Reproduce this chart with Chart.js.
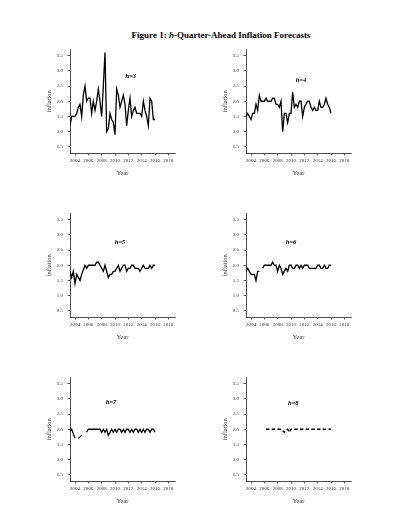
<!DOCTYPE html>
<html>
<head>
<meta charset="utf-8">
<script src="https://cdn.jsdelivr.net/npm/chart.js@4/dist/chart.umd.min.js"></script>
<style>
  html,body{margin:0;padding:0;background:#fff;width:399px;height:516px;overflow:hidden;}
  #title{position:absolute;left:21px;width:400px;top:30px;height:10px;line-height:10px;text-align:center;
    font-family:"Liberation Serif","Times New Roman",serif;font-weight:bold;font-size:9px;color:#000;white-space:nowrap;}
  canvas{position:absolute;}
</style>
</head>
<body>
<div id="title">Figure 1: <i>h</i>-Quarter-Ahead Inflation Forecasts</div>
<canvas id="c3" width="135" height="135" style="left:45px;top:42px"></canvas>
<canvas id="c4" width="135" height="135" style="left:221px;top:42px"></canvas>
<canvas id="c5" width="135" height="135" style="left:45px;top:206px"></canvas>
<canvas id="c6" width="135" height="135" style="left:221px;top:206px"></canvas>
<canvas id="c7" width="135" height="135" style="left:45px;top:370px"></canvas>
<canvas id="c8" width="135" height="135" style="left:221px;top:370px"></canvas>
<script>
// Quarterly dates (decimal years)
const quarters = [
  2003.25,2003.5,2003.75,2004.0,2004.25,2004.5,2004.75,2005.0,2005.25,2005.5,2005.75,
  2006.0,2006.25,2006.5,2006.75,2007.0,2007.25,2007.5,2007.75,2008.0,2008.25,2008.5,2008.75,
  2009.0,2009.25,2009.5,2009.75,2010.0,2010.25,2010.5,2010.75,2011.0,2011.25,2011.5,2011.75,
  2012.0,2012.25,2012.5,2012.75,2013.0,2013.25,2013.5,2013.75,2014.0,2014.25,2014.5,2014.75,
  2015.0,2015.25,2015.5,2015.75,2016.0
];
const xTicks = [2004,2006,2008,2010,2012,2014,2016,2018];
const yTicks = [0.5,1.0,1.5,2.0,2.5,3.0,3.5];

const h3 = [1.2,1.5,1.5,1.5,1.6,1.8,1.9,1.5,2.2,2.5,2.0,2.1,2.1,1.6,2.0,1.7,2.0,2.4,2.0,1.5,2.5,3.6,1.0,1.1,1.6,1.4,
            1.3,0.9,2.4,2.2,1.8,2.0,2.2,1.9,1.2,1.7,2.1,1.5,1.7,1.8,1.6,1.6,1.6,1.5,2.0,1.7,1.5,1.2,2.1,2.0,1.4,1.4];
const h4 = [1.5,1.6,1.5,1.4,1.6,1.6,1.9,1.7,2.2,2.0,2.0,2.0,2.1,2.0,2.0,2.0,2.1,2.1,1.9,1.9,1.8,2.0,1.0,1.6,1.6,1.3,
            1.6,1.6,2.3,1.8,1.9,1.8,2.0,2.0,1.5,1.8,1.9,2.0,2.0,1.8,1.7,1.8,1.7,1.7,2.0,1.8,1.8,1.9,2.1,1.9,1.8,1.6];
const h5 = [1.8,1.6,1.8,1.4,1.7,1.6,1.5,1.7,1.85,2.0,1.9,2.0,2.0,2.0,2.0,2.0,2.1,2.1,2.0,1.9,1.8,2.0,1.8,1.6,1.7,1.7,
            1.8,1.8,1.9,2.0,1.8,1.9,2.0,2.0,1.8,1.9,1.9,2.0,2.0,1.9,1.9,1.9,1.8,1.9,2.0,1.9,1.9,1.9,2.0,1.9,2.0,2.0];
const h6 = [1.8,1.9,1.8,1.7,1.7,1.7,1.5,1.8,1.8,null,1.9,2.0,2.0,2.0,2.0,2.0,2.1,2.0,2.0,1.8,2.0,1.9,1.7,1.8,1.9,1.8,
            2.0,2.0,1.9,1.9,2.0,2.0,1.9,2.0,1.9,2.0,2.0,2.0,1.9,1.9,1.9,1.9,1.9,2.0,2.0,1.9,1.9,2.0,1.9,1.9,2.0,2.0];
const h7 = [1.95,2.0,1.85,1.7,null,1.7,1.75,1.8,null,null,1.9,2.0,2.0,2.0,2.0,2.0,2.0,2.0,2.0,1.9,2.0,1.9,2.0,1.8,1.9,2.0,
            1.9,2.0,1.9,2.0,2.0,1.9,2.0,1.9,2.0,2.0,1.9,2.0,1.9,2.0,2.0,1.9,2.0,1.9,2.0,1.9,2.0,2.0,1.9,2.0,2.0,1.9];
const h8 = [null,null,null,null,null,null,null,null,null,null,null,null,2.0,2.0,2.0,2.0,2.0,2.0,2.0,2.0,2.0,2.0,1.95,1.9,1.95,2.0,
            1.9,2.0,2.0,2.0,2.0,2.0,2.0,2.0,2.0,2.0,2.0,2.0,2.0,2.0,2.0,2.0,2.0,2.0,2.0,2.0,2.0,2.0,2.0,2.0,2.0,2.0];

const SERIF = '"Liberation Serif","Times New Roman",serif';

const annotPlugin = {
  id: 'annot',
  afterDatasetsDraw(chart, args, o) {
    const {ctx, scales} = chart;
    ctx.save();
    ctx.font = 'italic bold 6.5px ' + SERIF;
    ctx.fillStyle = '#000';
    ctx.textAlign = 'center';
    ctx.textBaseline = 'middle';
    ctx.fillText(o.text, scales.x.getPixelForValue(o.x), scales.y.getPixelForValue(o.y));
    ctx.restore();
  }
};

function makeChart(id, values, label, ax, ay, dashed) {
  const pts = quarters.map((q, i) => ({x: q, y: values[i]}));
  new Chart(document.getElementById(id), {
    type: 'line',
    data: { datasets: [{
      data: pts, borderColor: '#000', borderWidth: 1.3, pointRadius: 0, tension: 0,
      spanGaps: false, borderDash: dashed ? [3.5, 2.2] : [], fill: false
    }]},
    options: {
      responsive: false, animation: false, devicePixelRatio: 1,
      layout: { padding: { top: 5, right: 5, bottom: 0, left: 0 } },
      plugins: { legend: {display: false}, tooltip: {enabled: false},
        annot: { text: label, x: ax, y: ay } },
      scales: {
        x: {
          type: 'linear', min: 2003.25, max: 2019,
          afterBuildTicks: s => { s.ticks = xTicks.map(v => ({value: v})); },
          afterFit: s => { s.height = 24; },
          grid: { drawOnChartArea: false, drawTicks: true, tickLength: 2.5, color: '#222', lineWidth: 0.7 },
          border: { display: true, color: '#222', width: 0.8 },
          ticks: { font: {family: SERIF, size: 5}, color: '#333', padding: 2.5, maxRotation: 0, autoSkip: false,
                   callback: v => String(v) },
          title: { display: true, text: 'Year', font: {family: SERIF, size: 6.5}, color: '#333', padding: 0 }
        },
        y: {
          type: 'linear', min: 0.3, max: 3.7,
          afterBuildTicks: s => { s.ticks = yTicks.map(v => ({value: v})); },
          afterFit: s => { s.width = 25; },
          grid: { drawOnChartArea: false, drawTicks: true, tickLength: 2.5, color: '#222', lineWidth: 0.7 },
          border: { display: true, color: '#222', width: 0.8 },
          ticks: { font: {family: SERIF, size: 5}, color: '#333', padding: 4.5, autoSkip: false,
                   callback: v => Number(v).toFixed(1) },
          title: { display: true, text: 'inflation', font: {family: SERIF, size: 6.5}, color: '#333', padding: 0 }
        }
      }
    },
    plugins: [annotPlugin]
  });
}

makeChart('c3', h3, 'h=3', 2012.35, 2.81, false);
makeChart('c4', h4, 'h=4', 2011.5, 2.69, false);
makeChart('c5', h5, 'h=5', 2010.75, 2.76, false);
makeChart('c6', h6, 'h=6', 2010.0, 2.76, false);
makeChart('c7', h7, 'h=7', 2009.4, 2.9, false);
makeChart('c8', h8, 'h=8', 2010.33, 2.84, true);
</script>
</body>
</html>
